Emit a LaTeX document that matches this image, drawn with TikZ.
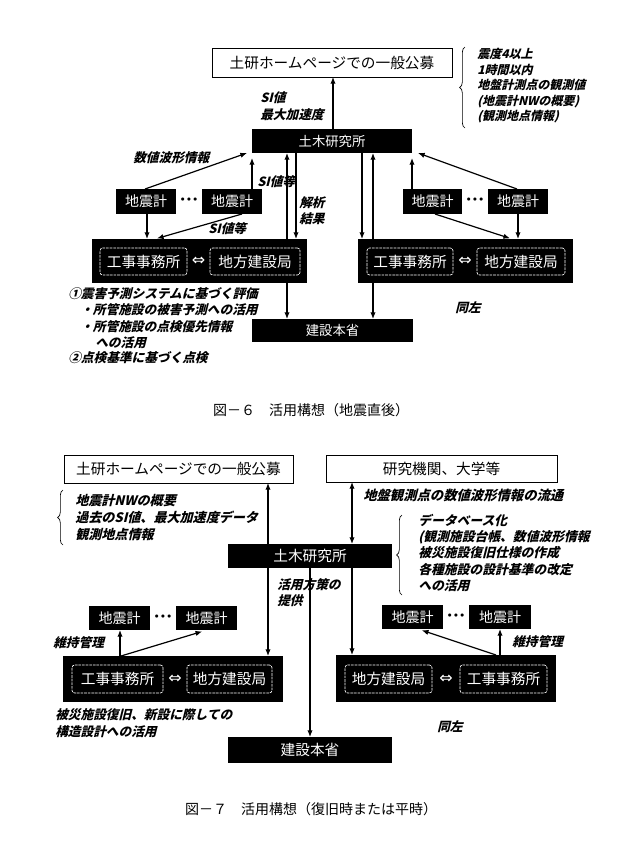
\documentclass[tikz,border=0pt]{standalone}
\usepackage{fontspec}
\setmainfont{Noto Sans CJK JP}
\newfontfamily\jpi[FakeSlant=0.25]{Noto Sans CJK JP}
\newfontfamily\dvs{DejaVu Sans}
\usetikzlibrary{arrows.meta,decorations.pathreplacing}
\newcommand\mybox[7]{\node[#6, minimum width={(#4-#2)*0.75pt}, minimum height={(#5-#3)*0.75pt}] (#1) at ({(#2+#4)/2},{(#3+#5)/2}) {#7};}
\tikzset{
 boxbase/.style={inner sep=0pt, outer sep=0pt, anchor=center},
 wbox/.style={boxbase, draw, line width=0.7pt, fill=white, font=\fontsize{11pt}{13pt}\selectfont},
 bbox/.style={boxbase, fill=black, text=white, font=\fontsize{10.5pt}{13pt}\selectfont},
 ibox/.style={boxbase, draw=white, line width=0.5pt, rounded corners=2pt, dash pattern=on 2pt off 0.7pt, text=white, font=\fontsize{11pt}{13pt}\selectfont},
 lab/.style={anchor=west, inner sep=0pt, font=\jpi\bfseries\fontsize{9.5pt}{12.5pt}\selectfont, align=left},
 arr/.style={line width=0.9pt, -{Latex[length=5pt,width=4pt]}},
 darr/.style={line width=0.9pt, {Latex[length=5pt,width=4pt]}-{Latex[length=5pt,width=4pt]}},
 brc/.style={line width=0.5pt, decorate, decoration={brace, amplitude=4pt}},
 dbl/.style={inner sep=0pt, text=white, font=\dvs\fontsize{12pt}{12pt}\selectfont},
 dotsn/.style={inner sep=0pt, font=\dvs\fontsize{8pt}{8pt}\selectfont},
 captxt/.style={inner sep=0pt, font=\fontsize{10.5pt}{12pt}\selectfont},
}
\begin{document}
\begin{tikzpicture}[x=0.75pt,y=-0.75pt]
\fill[white] (0,0) rectangle (640,861);
\useasboundingbox (0,0) rectangle (640,861);

% ================= Figure 6 =================
\mybox{hp}{212}{48}{452}{77}{wbox}{土研ホームページでの一般公募}
\mybox{tk}{252}{129}{412}{153}{bbox,font=\fontsize{10pt}{12pt}\selectfont}{土木研究所}
\mybox{za}{116}{189}{176}{214}{bbox}{地震計}
\mybox{zb}{202}{189}{262}{214}{bbox}{地震計}
\mybox{zc}{403}{189}{462}{214}{bbox}{地震計}
\mybox{zd}{488}{189}{548}{214}{bbox}{地震計}
\node[dotsn] (dta) at (189,201) {\textbullet\textbullet\textbullet};
\node[dotsn] (dtb) at (475,201) {\textbullet\textbullet\textbullet};
\mybox{lb}{92}{239}{307}{283}{bbox}{}
\mybox{lbk}{100}{248}{187}{275}{ibox}{工事事務所}
\mybox{lbc}{210}{248}{300}{275}{ibox}{地方建設局}
\node[dbl] (lbd) at (198.5,261.5) {⇔};
\mybox{rb}{358}{239}{573}{283}{bbox}{}
\mybox{rbk}{367}{248}{453}{275}{ibox}{工事事務所}
\mybox{rbc}{477}{248}{565}{275}{ibox}{地方建設局}
\node[dbl] (rbd) at (465,261.5) {⇔};
\mybox{kh}{252}{319}{413}{342}{bbox,font=\fontsize{10pt}{12pt}\selectfont}{建設本省}

\draw[arr] (tk.north -| 333,0) -- (hp.south -| 333,0);
\draw[arr] (za.north -| 145,0) -- ([xshift=-3.75pt]tk.south west);
\draw[arr, shorten >=3.75pt] (zb.north -| 252,0) -- (tk.south -| 252,0);
\draw[arr, shorten >=3.75pt] (zc.north -| 412,0) -- (tk.south -| 412,0);
\draw[arr] (zd.north -| 517,0) -- ([xshift=4.5pt]tk.south east);
\draw[arr] (za.south -| 147,0) -- (lb.north -| 147,0);
\draw[arr, shorten >=1.5pt] (zb.south -| 242,0) -- (lb.north -| 155,0);
\draw[arr, shorten >=1.5pt] (zc.south -| 435,0) -- (rb.north -| 512,0);
\draw[arr] (zd.south -| 518,0) -- (rb.north -| 518,0);
\draw[arr] (lb.north -| 287,0) -- (tk.south -| 287,0);
\draw[arr] (tk.south -| 296,0) -- (lb.north -| 296,0);
\draw[arr] (lb.south -| 287,0) -- (kh.north -| 287,0);
\draw[arr] (tk.south -| 362,0) -- (rb.north -| 362,0);
\draw[arr] (rb.north -| 373,0) -- (tk.south -| 373,0);
\draw[arr] (rb.south -| 373,0) -- (kh.north -| 373,0);

\node[lab, font=\jpi\bfseries\fontsize{9.5pt}{12.75pt}\selectfont] (l6a) at (260,106.5) {SI値\\最大加速度};
\draw[brc] (465,128) -- (465,47);
\node[lab, font=\jpi\bfseries\fontsize{9pt}{11.6pt}\selectfont] (l6b) at (477,86) {震度4以上\\1時間以内\\地盤計測点の観測値\\(地震計NWの概要)\\(観測地点情報)};
\node[lab] (l6c) at (133,158) {数値波形情報};
\node[lab] (l6d) at (257,182) {SI値等};
\node[lab] (l6e) at (208,229) {SI値等};
\node[lab, font=\jpi\bfseries\fontsize{9.5pt}{12pt}\selectfont] (l6f) at (299,211) {解析\\結果};
\node[lab] (l6g) at (68,294) {①震害予測システムに基づく評価};
\node[lab] (l6h) at (80,310) {・所管施設の被害予測への活用};
\node[lab] (l6i) at (80,327) {・所管施設の点検優先情報};
\node[lab] (l6j) at (95,343) {への活用};
\node[lab] (l6k) at (68,358) {②点検基準に基づく点検};
\node[lab] (l6l) at (455,308) {同左};
\node[captxt] (cap6) at (311,410) {図－６　活用構想（地震直後）};

% ================= Figure 7 =================
\mybox{hpb}{64}{455}{293}{483}{wbox}{土研ホームページでの一般公募}
\mybox{rk}{326}{455}{557}{482}{wbox}{研究機関、大学等}
\mybox{tkb}{228}{544}{392}{568}{bbox,font=\fontsize{11pt}{13pt}\selectfont}{土木研究所}
\mybox{ya}{89}{606}{150}{630}{bbox}{地震計}
\mybox{yb}{176}{606}{237}{630}{bbox}{地震計}
\mybox{yc}{382}{605}{443}{629}{bbox}{地震計}
\mybox{yd}{469}{605}{531}{629}{bbox}{地震計}
\node[dotsn] (dtc) at (163,618) {\textbullet\textbullet\textbullet};
\node[dotsn] (dtd) at (456,617) {\textbullet\textbullet\textbullet};
\mybox{lbb}{63}{656}{283}{702}{bbox}{}
\mybox{lbbk}{72}{665}{163}{693}{ibox}{工事事務所}
\mybox{lbbc}{187}{665}{272}{693}{ibox}{地方建設局}
\node[dbl] (lbbd) at (175,679) {⇔};
\mybox{rbb}{336}{655}{556}{702}{bbox}{}
\mybox{rbbc}{345}{665}{432}{693}{ibox}{地方建設局}
\mybox{rbbk}{460}{665}{547}{693}{ibox}{工事事務所}
\node[dbl] (rbbd) at (446,679) {⇔};
\mybox{khb}{228}{737}{392}{763}{bbox,font=\fontsize{11pt}{13pt}\selectfont}{建設本省}

\draw[arr] (tkb.north -| 268,0) -- (hpb.south -| 268,0);
\draw[darr] (rk.south -| 352,0) -- (tkb.north -| 352,0);
\draw[arr] (tkb.south -| 268,0) -- (lbb.north -| 268,0);
\draw[arr] (tkb.south -| 352,0) -- (rbb.north -| 352,0);
\draw[arr] (tkb.south -| 310,0) -- (khb.north -| 310,0);
\draw[arr] (lbb.north -| 120,0) -- (ya.south -| 120,0);
\draw[arr, shorten >=3.75pt] (lbb.north -| 121,0) -- (yb.south -| 207,0);
\draw[arr] (rbb.north -| 500,0) -- (yd.south -| 500,0);
\draw[arr, shorten >=3pt] (rbb.north -| 496,0) -- (yc.south -| 418,0);

\draw[brc] (63,545) -- (63,490);
\node[lab, font=\jpi\bfseries\fontsize{9.8pt}{12.5pt}\selectfont] (l7a) at (75,517.5) {地震計NWの概要\\過去のSI値、最大加速度データ\\観測地点情報};
\node[lab, font=\jpi\bfseries\fontsize{10pt}{12pt}\selectfont] (l7b) at (363,495) {地盤観測点の数値波形情報の流通};
\draw[brc] (402,595) -- (402,515);
\node[lab, font=\jpi\bfseries\fontsize{9.6pt}{12.25pt}\selectfont] (l7c) at (418,553) {データベース化\\(観測施設台帳、数値波形情報\\被災施設復旧仕様の作成\\各種施設の設計基準の改定\\への活用};
\node[lab, font=\jpi\bfseries\fontsize{9.5pt}{11.5pt}\selectfont] (l7d) at (277,592.5) {活用方策の\\提供};
\node[lab] (l7e) at (53,643) {維持管理};
\node[lab] (l7f) at (512,642) {維持管理};
\node[lab, font=\jpi\bfseries\fontsize{9.5pt}{12.75pt}\selectfont] (l7g) at (55,723.5) {被災施設復旧、新設に際しての\\構造設計への活用};
\node[lab] (l7h) at (437,727) {同左};
\node[captxt] (cap7) at (311,809) {図－７　活用構想（復旧時または平時）};
\end{tikzpicture}
\end{document}
